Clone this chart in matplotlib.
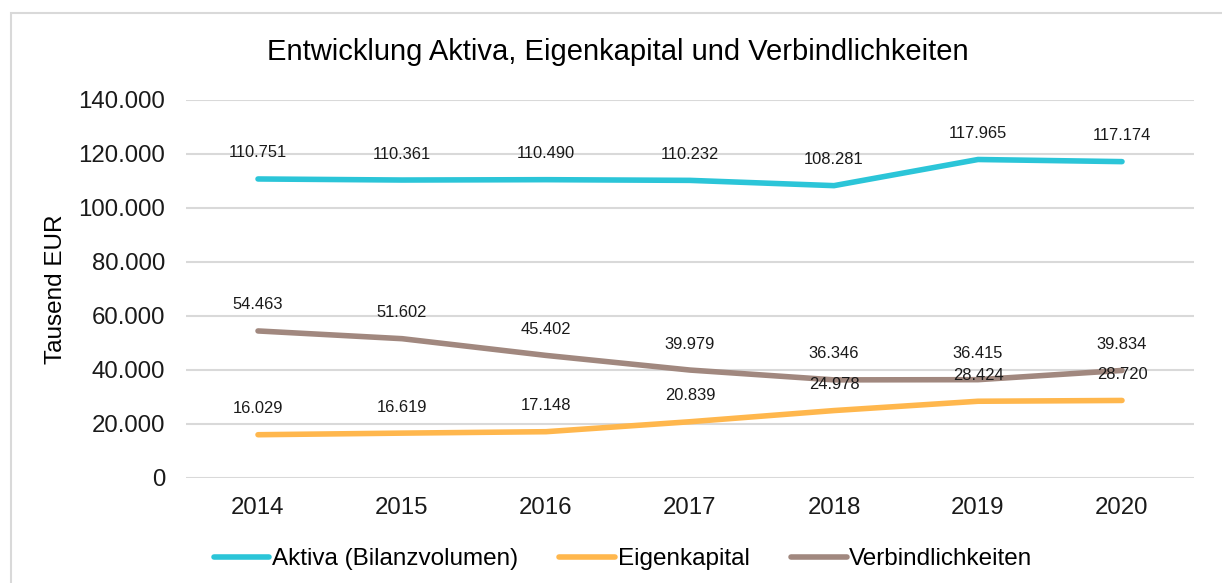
import matplotlib.pyplot as plt
from matplotlib.patches import Rectangle

years = ['2014', '2015', '2016', '2017', '2018', '2019', '2020']
aktiva = [110751, 110361, 110490, 110232, 108281, 117965, 117174]
eigenkapital = [16029, 16619, 17148, 20839, 24978, 28424, 28720]
verbindlichkeiten = [54463, 51602, 45402, 39979, 36346, 36415, 39834]

series = [
    ('Aktiva (Bilanzvolumen)', aktiva, '#2bc5d8'),
    ('Eigenkapital', eigenkapital, '#ffb74d'),
    ('Verbindlichkeiten', verbindlichkeiten, '#a1887f'),
]


def de_fmt(v):
    return f'{int(v):,}'.replace(',', '.')


plt.rcParams['font.family'] = ['Liberation Sans', 'DejaVu Sans']

fig = plt.figure(figsize=(12.22, 5.83), dpi=100)
fig.patches.append(Rectangle((11 / 1222, -0.1), 1.2, 1 - 13 / 583 + 0.1,
                             transform=fig.transFigure, fill=False,
                             edgecolor='#d9d9d9', linewidth=1.5))
ax = fig.add_axes([186 / 1222, 1 - 478 / 583, 1008 / 1222, 378 / 583])

x = list(range(len(years)))
for name, vals, col in series:
    ax.plot(x, vals, color=col, linewidth=4, solid_capstyle='round', label=name, zorder=3)
    for xi, v in zip(x, vals):
        ax.annotate(de_fmt(v), (xi, v), xytext=(0, 26), textcoords='offset pixels',
                    ha='center', va='center', fontsize=11.9, color='#1a1a1a', zorder=4)

ax.set_xlim(-0.5, len(years) - 0.5)
ax.set_ylim(0, 140000)
ax.set_yticks(range(0, 140001, 20000))
ax.set_yticklabels([de_fmt(t) for t in range(0, 140001, 20000)])
ax.set_xticks(x)
ax.set_xticklabels(years)
ax.tick_params(axis='both', length=0, labelsize=17.3, colors='#1a1a1a')
ax.tick_params(axis='y', pad=15)
ax.tick_params(axis='x', pad=14)
ax.grid(axis='y', color='#d9d9d9', linewidth=1.5, zorder=0)
for s in ax.spines.values():
    s.set_visible(False)
ax.set_axisbelow(True)
ax.set_ylabel('Tausend EUR', fontsize=17.5, labelpad=8)

fig.text(618 / 1222, 1 - 52 / 583, 'Entwicklung Aktiva, Eigenkapital und Verbindlichkeiten',
         ha='center', va='center', fontsize=21)

fig.legend(loc='center', bbox_to_anchor=(623 / 1222, 1 - 559 / 583), ncol=3, frameon=False,
           fontsize=17.5, handlelength=2.3, handletextpad=0.1, columnspacing=1.7)

fig.savefig('out.png', dpi=100)
